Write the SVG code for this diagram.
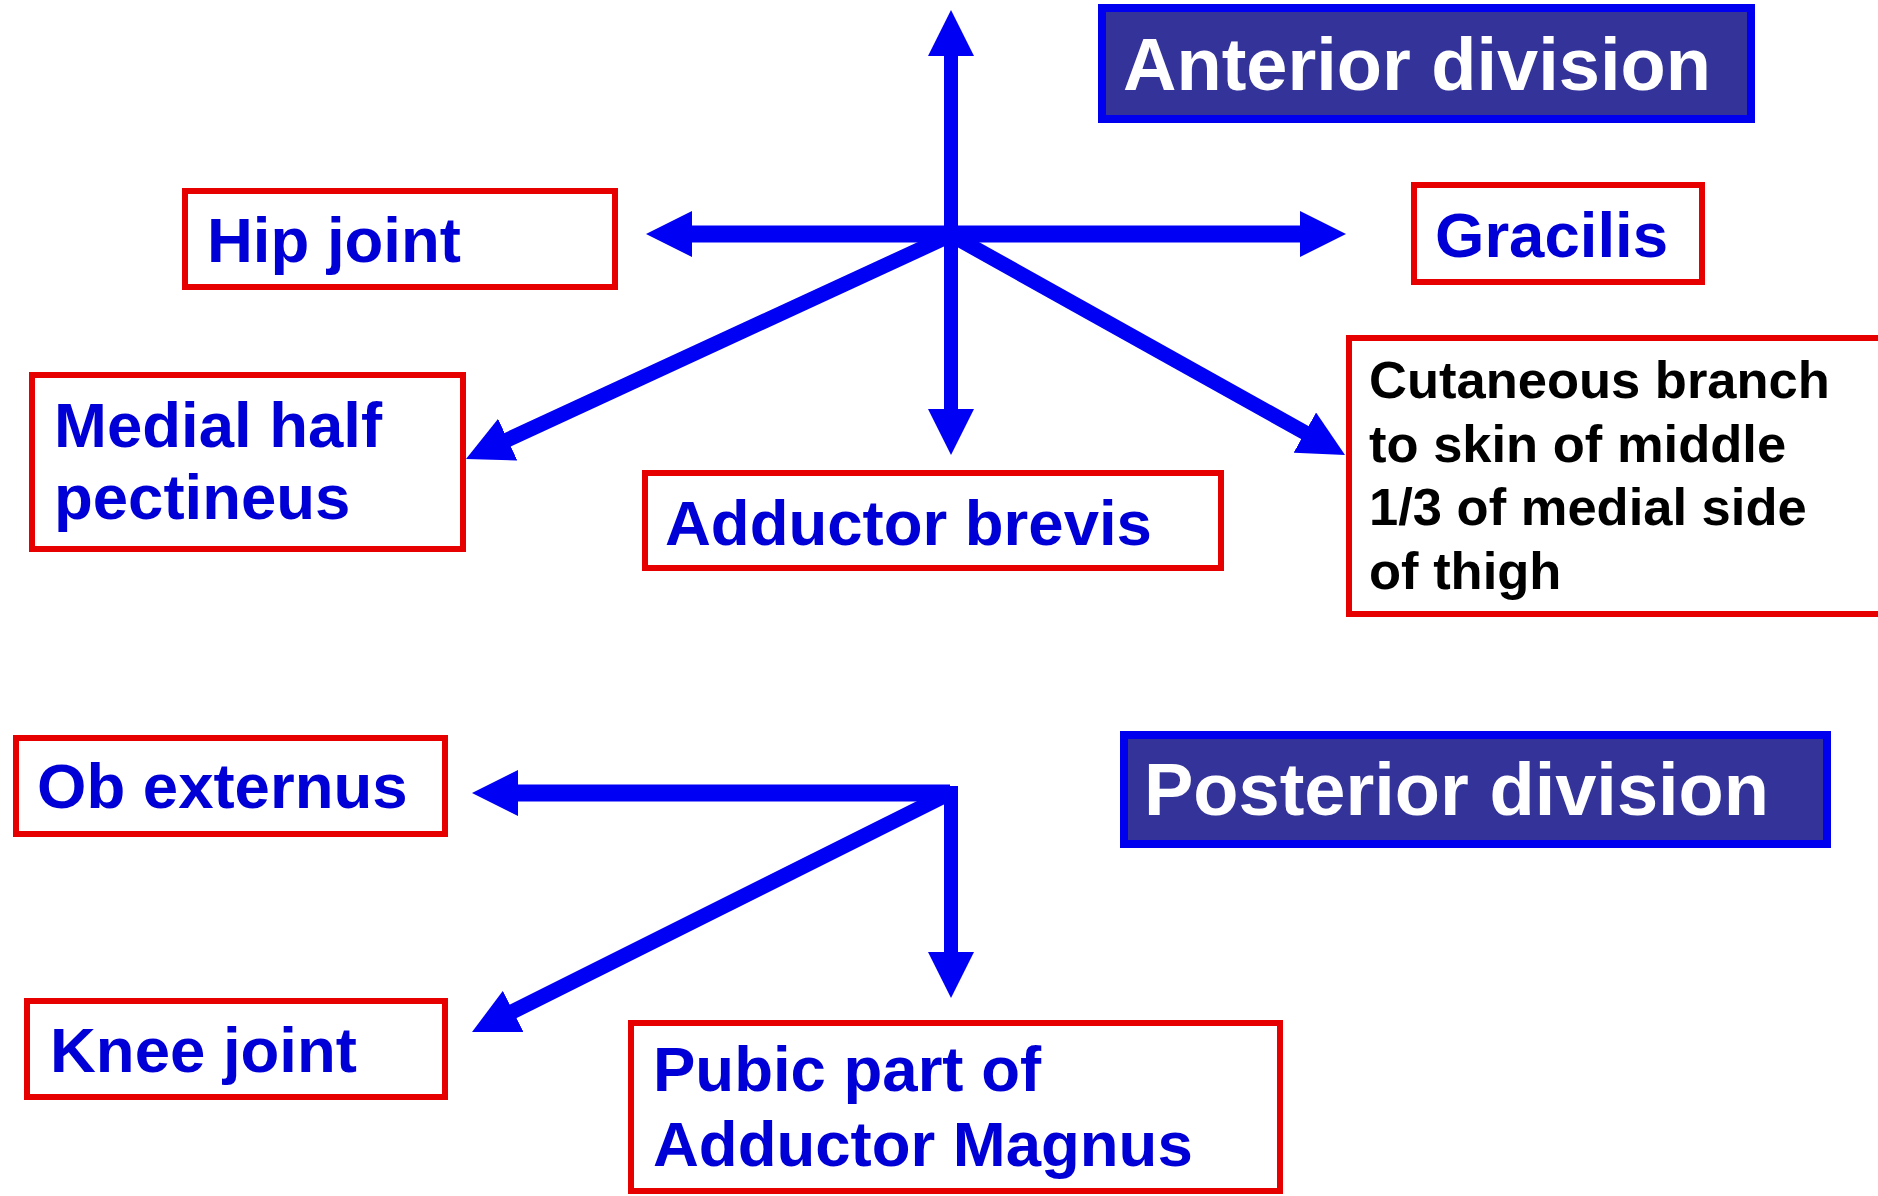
<svg xmlns="http://www.w3.org/2000/svg" width="1878" height="1196" viewBox="0 0 1878 1196">
<style>
.box{fill:#ffffff;stroke:#e60000;stroke-width:6}
.head{fill:#333399;stroke:#0000ee;stroke-width:8}
.t{font-family:"Liberation Sans",Arial,sans-serif;font-weight:bold;font-size:63.5px;fill:#0000d6}
.ht{font-family:"Liberation Sans",Arial,sans-serif;font-weight:bold;font-size:74px;fill:#ffffff}
.ct{font-family:"Liberation Sans",Arial,sans-serif;font-weight:bold;font-size:52.5px;fill:#000000}
.ln{stroke:#0000f5;fill:none;marker-end:url(#ah)}
.h{stroke-width:17}
.v{stroke-width:14}
.d{stroke-width:15}
</style>
<defs>
<marker id="ah" markerUnits="userSpaceOnUse" markerWidth="46" markerHeight="46" viewBox="0 0 46 46" refX="6" refY="23" orient="auto">
<path d="M0,0 L46,23 L0,46 z" fill="#0000f5"/>
</marker>
</defs>
<rect width="1878" height="1196" fill="#ffffff"/>
<g id="connectors">
<line class="ln v" x1="951" y1="235" x2="951" y2="50"/>
<line class="ln v" x1="951" y1="235" x2="951" y2="415"/>
<line class="ln h" x1="951" y1="234" x2="686" y2="234"/>
<line class="ln h" x1="951" y1="234" x2="1306" y2="234"/>
<line class="ln d" x1="951" y1="235" x2="502.3" y2="442.2"/>
<line class="ln d" x1="951" y1="235" x2="1310.1" y2="435.5"/>
<line class="ln h" x1="950" y1="793" x2="512" y2="793"/>
<line class="ln v" x1="951" y1="786" x2="951" y2="958"/>
<line class="ln d" x1="950" y1="793" x2="507.8" y2="1014.1"/>
</g>
<g id="anterior-division">
<rect class="head" x="1102" y="8" width="649" height="111"/>
<text class="ht" x="1123" y="90">Anterior division</text>
</g>
<g id="hip-joint">
<rect class="box" x="185" y="191" width="430" height="96"/>
<text class="t" x="207" y="262">Hip joint</text>
</g>
<g id="gracilis">
<rect class="box" x="1414" y="185" width="288" height="97"/>
<text class="t" x="1435" y="257">Gracilis</text>
</g>
<g id="medial-half-pectineus">
<rect class="box" x="32" y="375" width="431" height="174"/>
<text class="t" x="54" y="447">Medial half</text>
<text class="t" x="54" y="519">pectineus</text>
</g>
<g id="adductor-brevis">
<rect class="box" x="645" y="473" width="576" height="95"/>
<text class="t" x="665" y="545">Adductor brevis</text>
</g>
<g id="cutaneous-branch">
<rect class="box" x="1349" y="338" width="560" height="276"/>
<text class="ct" x="1369" y="398">Cutaneous branch</text>
<text class="ct" x="1369" y="462">to skin of middle</text>
<text class="ct" x="1369" y="525">1/3 of medial side</text>
<text class="ct" x="1369" y="589">of thigh</text>
</g>
<g id="posterior-division">
<rect class="head" x="1124" y="735" width="703" height="109"/>
<text class="ht" x="1144" y="815">Posterior division</text>
</g>
<g id="ob-externus">
<rect class="box" x="16" y="738" width="429" height="96"/>
<text class="t" x="37" y="808">Ob externus</text>
</g>
<g id="knee-joint">
<rect class="box" x="27" y="1001" width="418" height="96"/>
<text class="t" x="50" y="1072">Knee joint</text>
</g>
<g id="pubic-part-adductor-magnus">
<rect class="box" x="631" y="1023" width="649" height="168"/>
<text class="t" x="653" y="1091">Pubic part of</text>
<text class="t" x="653" y="1166">Adductor Magnus</text>
</g>
</svg>
